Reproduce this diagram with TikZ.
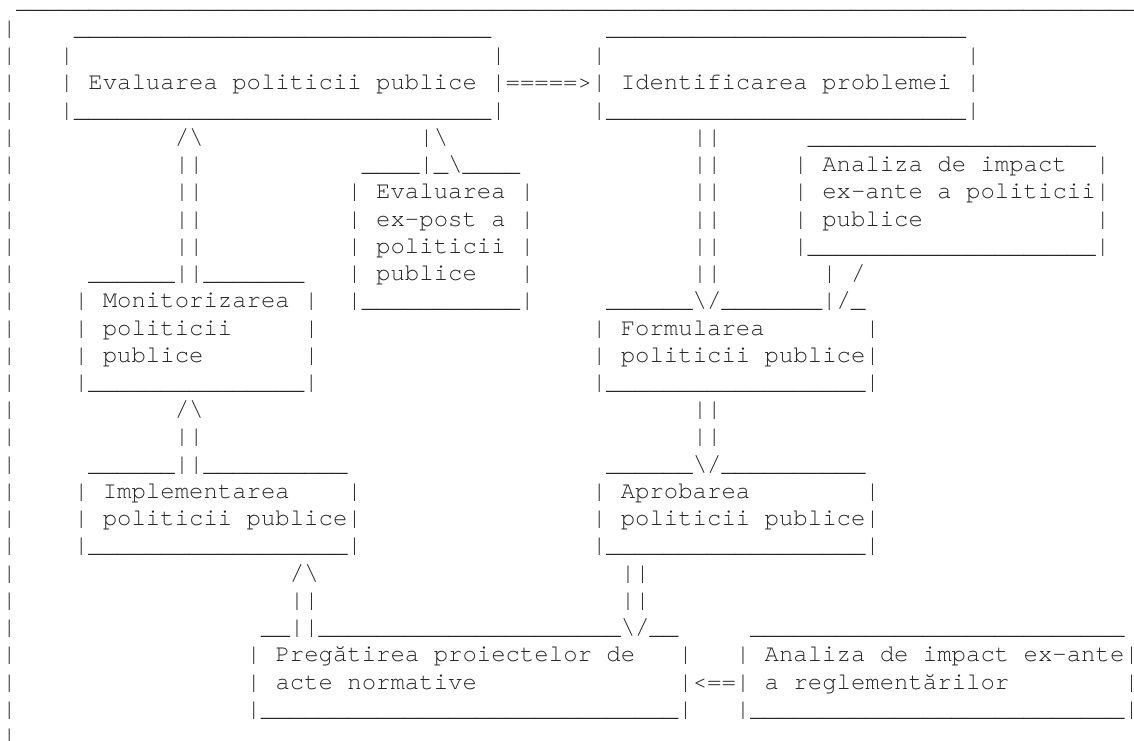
\documentclass[tikz,border=0pt]{standalone}
\usepackage{fontspec}
\newfontfamily\asciifont{texgyrecursor}[Extension=.otf, UprightFont=*-regular, Ligatures=NoCommon]
\newlength\cw
\setlength\cw{14.39pt}
\newcommand\gP[1]{\hspace*{#1\cw}}
\ExplSyntaxOn
\NewDocumentCommand\uS{m}{\prg_replicate:nn{#1}{\_}}
\ExplSyntaxOff
\newcommand\bS{\textbackslash}
\newcommand\eB{\makebox[8.5pt][l]{|}}
\tikzset{
  asciirow/.style={anchor=base west, inner sep=0pt, outer sep=0pt, text=black!85,
    font=\asciifont\fontsize{23.98pt}{27.23pt}\selectfont}
}
\begin{document}
\begin{tikzpicture}
\path[use as bounding box, fill=white] (0,0) rectangle (1134pt,740pt);
\node[asciirow] (r0)  at (2.1pt,731.70pt) {\gP{1}\uS{77}\makebox[8.5pt][l]{\_}};
\node[asciirow] (r1)  at (2.1pt,704.47pt) {|\gP{4}\uS{29}\gP{8}\uS{25}};
\node[asciirow] (r2)  at (2.1pt,677.24pt) {|\gP{3}|\gP{29}|\gP{6}|\gP{25}|};
\node[asciirow] (r3)  at (2.1pt,650.01pt) {|\gP{3}| Evaluarea politicii publice |=====>| Identificarea problemei |};
\node[asciirow] (r4)  at (2.1pt,622.78pt) {|\gP{3}|\uS{29}|\gP{6}|\uS{25}|};
\node[asciirow] (r5)  at (2.1pt,595.55pt) {|\gP{11}/\bS\gP{15}|\bS\gP{17}||\gP{6}\uS{20}};
\node[asciirow] (r6)  at (2.1pt,568.32pt) {|\gP{11}||\gP{11}\uS{4}|\_\bS\uS{4}\gP{12}||\gP{5}| Analiza de impact\gP{2}|};
\node[asciirow] (r7)  at (2.1pt,541.09pt) {|\gP{11}||\gP{10}| Evaluarea |\gP{11}||\gP{5}| ex-ante a politicii|};
\node[asciirow] (r8)  at (2.1pt,513.86pt) {|\gP{11}||\gP{10}| ex-post a |\gP{11}||\gP{5}| publice\gP{12}|};
\node[asciirow] (r9)  at (2.1pt,486.63pt) {|\gP{11}||\gP{10}| politicii |\gP{11}||\gP{5}|\uS{20}|};
\node[asciirow] (r10) at (2.1pt,459.40pt) {|\gP{5}\uS{6}||\uS{7}\gP{3}| publice\gP{3}|\gP{11}||\gP{7}|\gP{1}/};
\node[asciirow] (r11) at (2.1pt,432.17pt) {|\gP{4}| Monitorizarea |\gP{2}|\uS{11}|\gP{5}\uS{6}\bS/\uS{7}|/\_};
\node[asciirow] (r12) at (2.1pt,404.94pt) {|\gP{4}| politicii\gP{5}|\gP{19}| Formularea\gP{7}|};
\node[asciirow] (r13) at (2.1pt,377.71pt) {|\gP{4}| publice\gP{7}|\gP{19}| politicii publice|};
\node[asciirow] (r14) at (2.1pt,350.48pt) {|\gP{4}|\uS{15}|\gP{19}|\uS{18}|};
\node[asciirow] (r15) at (2.1pt,323.25pt) {|\gP{11}/\bS\gP{34}||};
\node[asciirow] (r16) at (2.1pt,296.02pt) {|\gP{11}||\gP{34}||};
\node[asciirow] (r17) at (2.1pt,268.79pt) {|\gP{5}\uS{6}||\uS{10}\gP{18}\uS{6}\bS/\uS{10}};
\node[asciirow] (r18) at (2.1pt,241.56pt) {|\gP{4}| Implementarea\gP{4}|\gP{16}| Aprobarea\gP{8}|};
\node[asciirow] (r19) at (2.1pt,214.33pt) {|\gP{4}| politicii publice|\gP{16}| politicii publice|};
\node[asciirow] (r20) at (2.1pt,187.10pt) {|\gP{4}|\uS{18}|\gP{16}|\uS{18}|};
\node[asciirow] (r21) at (2.1pt,159.87pt) {|\gP{19}/\bS\gP{21}||};
\node[asciirow] (r22) at (2.1pt,132.64pt) {|\gP{19}||\gP{21}||};
\node[asciirow] (r23) at (2.1pt,105.41pt) {|\gP{17}\uS{2}||\uS{21}\bS/\uS{2}\gP{5}\uS{26}};
\node[asciirow] (r24) at (2.1pt,78.18pt)  {|\gP{16}| Pregătirea proiectelor de\gP{3}|\gP{3}| Analiza de impact ex-ante\eB};
\node[asciirow] (r25) at (2.1pt,50.95pt)  {|\gP{16}| acte normative\gP{14}|<==| a reglementărilor\gP{8}\eB};
\node[asciirow] (r26) at (2.1pt,23.72pt)  {|\gP{16}|\uS{29}|\gP{3}|\uS{26}\eB};
\node[asciirow] (r27) at (2.1pt,-3.51pt)  {|};
\end{tikzpicture}
\end{document}
